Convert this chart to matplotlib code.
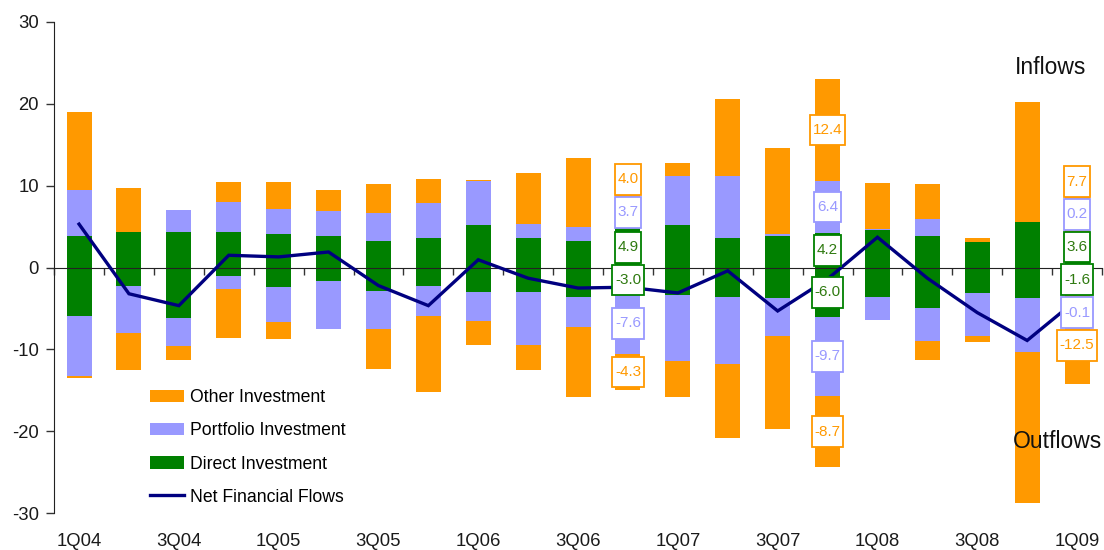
import numpy as np
import matplotlib
matplotlib.use("Agg")
import matplotlib.pyplot as plt
from matplotlib.path import Path
from matplotlib.transforms import blended_transform_factory

plt.rcParams['font.family'] = ['Liberation Sans', 'DejaVu Sans']
plt.rcParams['axes.unicode_minus'] = False

quarters = ["1Q04", "2Q04", "3Q04", "4Q04", "1Q05", "2Q05", "3Q05", "4Q05",
            "1Q06", "2Q06", "3Q06", "4Q06", "1Q07", "2Q07", "3Q07", "4Q07",
            "1Q08", "2Q08", "3Q08", "4Q08", "1Q09"]

direct_pos = [3.8, 4.4, 4.3, 4.3, 4.15, 3.9, 3.2, 3.65, 5.2, 3.65, 3.2,
              4.9, 5.2, 3.65, 3.8, 4.2, 4.6, 3.8, 3.1, 5.5, 3.6]
portfolio_pos = [5.7, 0.0, 2.7, 3.7, 2.95, 2.95, 3.5, 4.25, 5.35, 1.65, 1.8,
                 3.7, 5.95, 7.5, 0.3, 6.4, 0.1, 2.15, 0.0, 0.0, 0.2]
other_pos = [9.5, 5.3, 0.0, 2.4, 3.3, 2.65, 3.55, 2.95, 0.15, 6.3, 8.4,
             4.0, 1.65, 9.45, 10.5, 12.4, 5.6, 4.2, 0.55, 14.7, 7.7]
direct_neg = [-5.9, -2.2, -6.2, -1.0, -2.35, -1.6, -2.9, -2.2, -3.0, -3.0, -3.55,
              -3.0, -3.4, -3.55, -3.7, -6.0, -3.55, -4.9, -3.1, -3.7, -1.6]
portfolio_neg = [-7.3, -5.8, -3.4, -1.65, -4.35, -5.95, -4.55, -3.75, -3.55, -6.5, -3.75,
                 -7.6, -8.05, -8.25, -4.7, -9.7, -2.8, -4.05, -5.3, -6.6, -0.1]
other_neg = [-0.25, -4.5, -1.7, -5.95, -2.05, 0.0, -4.9, -9.25, -2.95, -3.0, -8.55,
             -4.3, -4.4, -9.05, -11.3, -8.7, 0.0, -2.35, -0.7, -18.5, -12.5]
net_flows = [5.3, -3.2, -4.65, 1.5, 1.3, 1.9, -2.2, -4.65, 0.95, -1.3, -2.5,
             -2.4, -3.1, -0.4, -5.3, -1.4, 3.7, -1.3, -5.5, -8.9, -3.9]

labelled_quarters = ["4Q06", "4Q07", "1Q09"]
label_every = 2

ORANGE = '#FF9900'
PURPLE = '#9999FF'
GREEN = '#008000'
GREEN_TXT = '#2F7A10'
NAVY = '#000080'

dp = np.array(direct_pos); pp = np.array(portfolio_pos); op = np.array(other_pos)
dn = np.array(direct_neg); pn = np.array(portfolio_neg); on = np.array(other_neg)
x = np.arange(len(quarters))
w = 0.5


def label_box(x0, y0, width, height, mutation_size):
    px = 0.18 * mutation_size
    py = 0.55 * mutation_size
    x0, y0 = x0 - px, y0 - py
    x1, y1 = x0 + width + 2 * px, y0 + height + 2 * py
    return Path([(x0, y0), (x1, y0), (x1, y1), (x0, y1), (x0, y0)], closed=True)


fig = plt.figure(figsize=(11.04, 5.5), dpi=100)
ax = fig.add_axes([0.049, 0.0667, 0.9492, 0.8937])

h_dir = ax.bar(x, dp, w, color=GREEN, linewidth=0, zorder=2)
h_por = ax.bar(x, pp, w, bottom=dp, color=PURPLE, linewidth=0, zorder=2)
h_oth = ax.bar(x, op, w, bottom=dp + pp, color=ORANGE, linewidth=0, zorder=2)
ax.bar(x, dn, w, color=GREEN, linewidth=0, zorder=2)
ax.bar(x, pn, w, bottom=dn, color=PURPLE, linewidth=0, zorder=2)
ax.bar(x, on, w, bottom=dn + pn, color=ORANGE, linewidth=0, zorder=2)

h_net, = ax.plot(x, net_flows, color=NAVY, lw=2.4, zorder=4, solid_joinstyle='miter')

# boxed value labels
G = 4.0
for q in labelled_quarters:
    i = quarters.index(q)
    c_dp = dp[i] / 2; c_pp = dp[i] + pp[i] / 2; c_op = dp[i] + pp[i] + op[i] / 2
    c_dn = dn[i] / 2; c_pn = dn[i] + pn[i] / 2; c_on = dn[i] + pn[i] + on[i] / 2
    if c_dp - c_dn < G:
        mid = (c_dp + c_dn) / 2
        c_dp, c_dn = mid + G / 2, mid - G / 2
    c_pp = max(c_pp, c_dp + G); c_op = max(c_op, c_pp + G)
    c_pn = min(c_pn, c_dn - G); c_on = min(c_on, c_pn - G)
    items = [(op[i], c_op, ORANGE, ORANGE), (pp[i], c_pp, PURPLE, PURPLE),
             (dp[i], c_dp, GREEN, GREEN_TXT), (dn[i], c_dn, GREEN, GREEN_TXT),
             (pn[i], c_pn, PURPLE, PURPLE), (on[i], c_on, ORANGE, ORANGE)]
    for v, yc, ec, tc in items:
        ax.text(i, yc, f"{v:.1f}", ha='center', va='center', color=tc, fontsize=11,
                zorder=6,
                bbox=dict(boxstyle=label_box, fc='white', ec=ec, lw=1.3))

ax.set_xlim(-0.5, len(quarters) - 0.5)
ax.set_ylim(-30, 30)
ax.set_yticks([-30, -20, -10, 0, 10, 20, 30])
ax.set_xticks(np.arange(-0.5, len(quarters), 1.0))
ax.set_xticklabels([])
ax.tick_params(axis='x', direction='out', length=5, width=1, color='#333333')
ax.tick_params(axis='y', direction='out', length=6, width=1, color='#333333',
               labelsize=13.3, labelcolor='#1a1a1a', pad=5)
for s in ['top', 'right']:
    ax.spines[s].set_visible(False)
ax.spines['bottom'].set_position(('data', 0))
ax.spines['bottom'].set_color('#222222')
ax.spines['bottom'].set_zorder(3)
ax.spines['left'].set_color('#222222')

trans = blended_transform_factory(ax.transData, ax.transAxes)
for i in range(0, len(quarters), label_every):
    ax.text(x[i], -0.058, quarters[i], transform=trans, ha='center', va='center',
            fontsize=13.3, color='#1a1a1a')

ax.text(0.917, 0.907, "Inflows", transform=ax.transAxes, ha='left', va='center',
        fontsize=16.5, color='#111111')
ax.text(0.915, 0.147, "Outflows", transform=ax.transAxes, ha='left', va='center',
        fontsize=16.5, color='#111111')

ax.legend([h_oth, h_por, h_dir, h_net],
          ["Other Investment", "Portfolio Investment", "Direct Investment",
           "Net Financial Flows"],
          loc='upper left', bbox_to_anchor=(0.0916, 0.252), frameon=False,
          fontsize=12.7, borderpad=0, handlelength=1.93, handleheight=0.7,
          handletextpad=0.35, labelspacing=0.91, borderaxespad=0)

fig.savefig("out.png", dpi=100)
